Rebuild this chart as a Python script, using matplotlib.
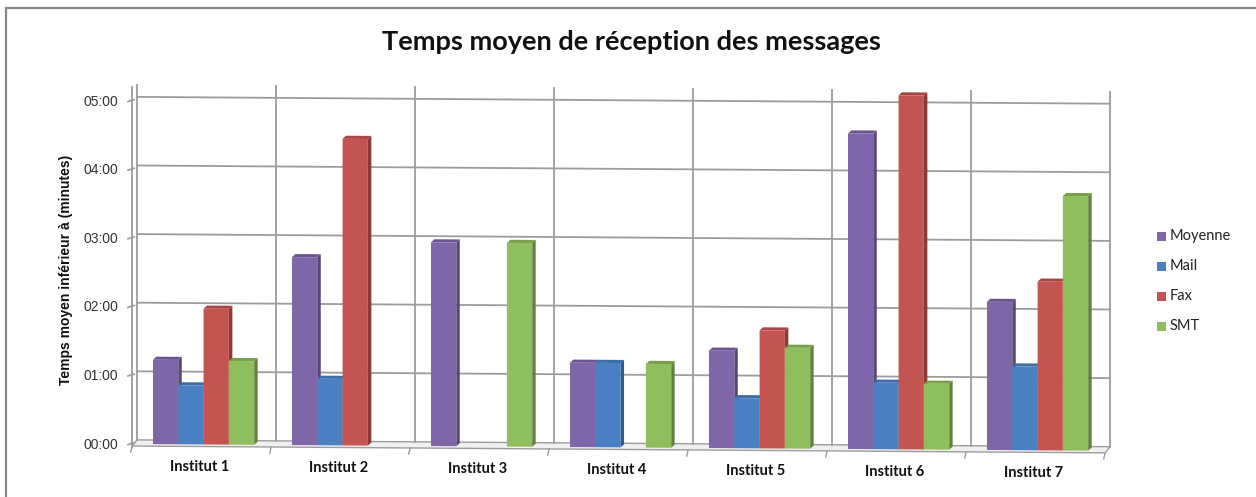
import matplotlib
matplotlib.use("Agg")
import matplotlib.pyplot as plt
from matplotlib.patches import Rectangle, Polygon
from matplotlib.transforms import Affine2D

# --- data (minutes) ---
categories = ["Institut 1", "Institut 2", "Institut 3", "Institut 4",
              "Institut 5", "Institut 6", "Institut 7"]
series_names = ["Moyenne", "Mail", "Fax", "SMT"]
moyenne = [1.23, 2.74, 2.97, 1.23, 1.42, 4.60, 2.16]
mail    = [0.86, 0.97, 0.00, 1.23, 0.73, 0.97, 1.22]
fax     = [1.98, 4.47, 0.00, 0.00, 1.72, 5.16, 2.46]
smt     = [1.22, 0.00, 2.97, 1.22, 1.47, 0.96, 3.71]
y_ticks = [0, 1, 2, 3, 4, 5]
y_tick_labels = ["00:00", "01:00", "02:00", "03:00", "04:00", "05:00"]

title = "Temps moyen de réception des messages"
y_label = "Temps moyen inférieur à (minutes)"

# --- style ---
front_cols = ["#7F66A8", "#4A80C3", "#C4544F", "#8FBF5C"]
side_cols  = ["#594775", "#345A8A", "#8A3A37", "#647F3E"]
top_cols   = ["#6A5490", "#3D6BA5", "#A84541", "#789F4B"]
grid_col = "#9C9C9C"

W, H, DPI = 1256, 497, 100
fig = plt.figure(figsize=(W / DPI, H / DPI), dpi=DPI)
fig.patch.set_facecolor("white")

# plot area in pixels
px_left, px_right = 137, 1110
px_zero, px_five = 444, 101
ax = fig.add_axes([px_left / W, (H - px_zero) / H,
                   (px_right - px_left) / W, (px_zero - px_five) / H])
ax.set_xlim(0, 7)
ax.set_ylim(0, 5)
ax.axis("off")

# slight perspective: shear so the right side sits a bit lower
s = 0.007
shear = Affine2D.from_values(1, -s, 0, 1, 0, s * px_left)
T = ax.transData + shear

wall_off = 0.06      # back wall offset
wall_top = 5.23
n = len(categories)

# floor
floor = Polygon([(-0.035, -0.03), (n - 0.035, -0.03), (n, wall_off), (0, wall_off)],
                closed=True, facecolor="#F0F0F0", edgecolor=grid_col, lw=1.0,
                transform=T, clip_on=False, zorder=1)
ax.add_patch(floor)

# horizontal gridlines on back wall
for v in y_ticks[1:]:
    ax.plot([0, n], [v + wall_off, v + wall_off], color=grid_col, lw=1.3,
            transform=T, clip_on=False, zorder=1)
# vertical category dividers
for i in range(n + 1):
    ax.plot([i, i], [wall_off, wall_top], color=grid_col, lw=1.3,
            transform=T, clip_on=False, zorder=1)
    ax.plot([i - 0.035, i - 0.045], [-0.03, -0.12], color=grid_col, lw=1.0,
            transform=T, clip_on=False, zorder=1)
# left wall thickness
ax.plot([-0.035, -0.035], [-0.05, wall_top - 0.02], color=grid_col, lw=1.3,
        transform=T, clip_on=False, zorder=1)
# y ticks and labels
for v, lab in zip(y_ticks, y_tick_labels):
    ax.plot([-0.065, -0.02], [v - 0.01, v + 0.02], color=grid_col, lw=1.2,
            transform=T, clip_on=False, zorder=1)
    ax.text(-0.135, v - 0.01, lab, ha="right", va="center", fontsize=10,
            family="Liberation Sans", color="#333333", transform=T)

# bars with a simple 3D look
bar_w = 0.182
start = 0.115
dx, dy = 0.025, 0.045
data = [moyenne, mail, fax, smt]
for i in range(n):
    for k, vals in enumerate(data):
        v = vals[i]
        if v <= 0:
            continue
        x = i + start + k * bar_w
        z = 3 + k * 0.01 + i * 0.1
        side = Polygon([(x + bar_w, 0), (x + bar_w + dx, dy),
                        (x + bar_w + dx, v + dy), (x + bar_w, v)],
                       closed=True, facecolor=side_cols[k], edgecolor="none",
                       transform=T, zorder=z, clip_on=False)
        topf = Polygon([(x, v), (x + dx, v + dy), (x + bar_w + dx, v + dy),
                        (x + bar_w, v)], closed=True, facecolor=top_cols[k],
                       edgecolor="none", transform=T, zorder=z, clip_on=False)
        front = Rectangle((x, 0), bar_w, v, facecolor=front_cols[k],
                          edgecolor="none", transform=T, zorder=z + 0.001,
                          clip_on=False)
        ax.add_patch(side)
        ax.add_patch(topf)
        ax.add_patch(front)

# category labels
for i, lab in enumerate(categories):
    ax.text(i + 0.45, -0.33, lab, ha="center", va="center", fontsize=10.5,
            fontweight="bold", family="Lato", color="#111111", transform=T)

# y axis title
fig.text(66 / W, 1 - 270 / H, y_label, rotation=90, ha="center", va="center",
         fontsize=10, fontweight="bold", family="Liberation Sans", color="#111111")

# chart title
fig.text(631 / W, 1 - 42 / H, title, ha="center", va="center", fontsize=19.5,
         fontweight="bold", family="Lato", color="#111111")

# legend
leg_rows = [236, 266, 296, 326]
for k, (name, yy) in enumerate(zip(series_names, leg_rows)):
    fig.patches.append(Rectangle(((1157) / W, 1 - (yy + 4.5) / H), 9 / W, 9 / H,
                                 facecolor=front_cols[k], edgecolor="none",
                                 transform=fig.transFigure, figure=fig))
    fig.text(1170 / W, 1 - yy / H, name, ha="left", va="center", fontsize=10.5,
             family="Lato", color="#222222")

# chart border
fig.patches.append(Rectangle((6 / W, -0.05), 1.1, 1.05 - 8 / H, facecolor="none",
                             edgecolor="#8A8A8A", lw=1.6,
                             transform=fig.transFigure, figure=fig))

fig.savefig("out.png", dpi=DPI, facecolor="white")
